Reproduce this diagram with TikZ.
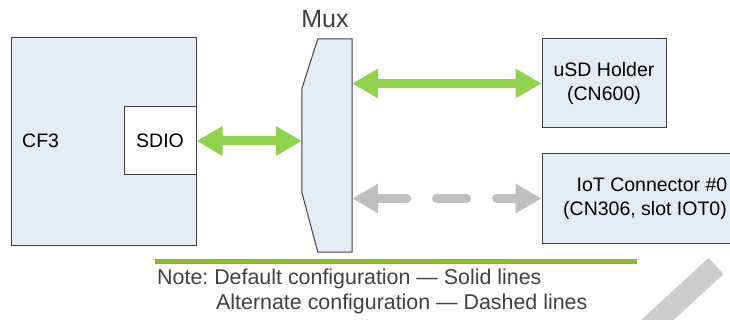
\documentclass[tikz,border=0pt]{standalone}
\usepackage{fontspec}
\setmainfont{Liberation Sans}
\frenchspacing
\usetikzlibrary{arrows.meta}
\definecolor{boxfill}{HTML}{E6ECF7}
\definecolor{boxline}{HTML}{404040}
\definecolor{arrgreen}{HTML}{92D050}
\definecolor{arrgray}{HTML}{BFBFBF}
\definecolor{rulegreen}{HTML}{8CB833}
\definecolor{notetext}{HTML}{3C4146}
\definecolor{wmark}{HTML}{CCCCCC}
\tikzset{
  blk/.style={draw=boxline, fill=boxfill, line width=1pt, inner sep=0pt, align=center,
    font=\fontsize{19.5}{24.5}\selectfont},
  whiteblk/.style={blk, fill=white},
  greenarrow/.style={draw=arrgreen, line width=9pt, {Triangle[length=26pt,width=28pt]}-{Triangle[length=26pt,width=28pt]}},
  grayarrow/.style={draw=arrgray, line width=9pt, line cap=round, dash pattern=on 30pt off 30pt,
    {Triangle[length=26pt,width=28pt,line cap=butt]}-{Triangle[length=26pt,width=28pt,line cap=butt]}},
  notefont/.style={text=notetext, font=\fontsize{21.4}{25}\selectfont, inner sep=0pt, anchor=base west},
}
\begin{document}
\begin{tikzpicture}[x=1pt,y=-1pt]
\useasboundingbox (0,0) rectangle (730,320);
% watermark fragment
\draw[wmark, line width=22pt] (716,266) -- (640,336);
% CF3
\node[blk, minimum width=185pt, minimum height=207pt] (cf3) at (103.5,141.5) {};
\node[anchor=west, inner sep=0pt, font=\fontsize{19.5}{24.5}\selectfont] (cf3t) at (22,141) {CF3};
\node[whiteblk, minimum width=72pt, minimum height=68pt] (sdio) at (160,141) {SDIO};
% Mux
\node[inner sep=0pt, minimum width=50pt, minimum height=213pt] (mux) at (327,145.5) {};
\draw[boxline, fill=boxfill, line width=1pt]
  (mux.north east) -- (mux.south east) -- ([shift={(16,0)}]mux.south west) -- ([shift={(0,-60)}]mux.south west)
  -- ([shift={(0,50)}]mux.north west) -- ([shift={(16,0)}]mux.north west) -- cycle;
\node[text=boxline, font=\fontsize{25}{30}\selectfont, inner sep=0pt] (muxt) at (325,19) {Mux};
% targets
\node[blk, minimum width=124pt, minimum height=89pt] (usd) at (604,83.5) {uSD Holder\\(CN600)};
\node[blk, minimum width=206pt, minimum height=89pt] (iot) at (645,198.5) {\hspace*{14pt}IoT Connector \#0\\(CN306, slot IOT0)};
% connectors
\draw[greenarrow] (sdio.east) -- (mux.west |- sdio.east);
\draw[greenarrow] (mux.east |- usd.west) -- (usd.west);
\draw[grayarrow] (mux.east |- iot.west) -- (iot.west);
% note
\coordinate (rl) at (155,261);
\coordinate (rr) at (637,261);
\draw[rulegreen, line width=5pt] (rl) -- (rr);
\node[notefont] (n1) at (157,284) {Note: Default configuration — Solid lines};
\node[notefont] (n2) at (216,309) {Alternate configuration — Dashed lines};
\end{tikzpicture}
\end{document}
